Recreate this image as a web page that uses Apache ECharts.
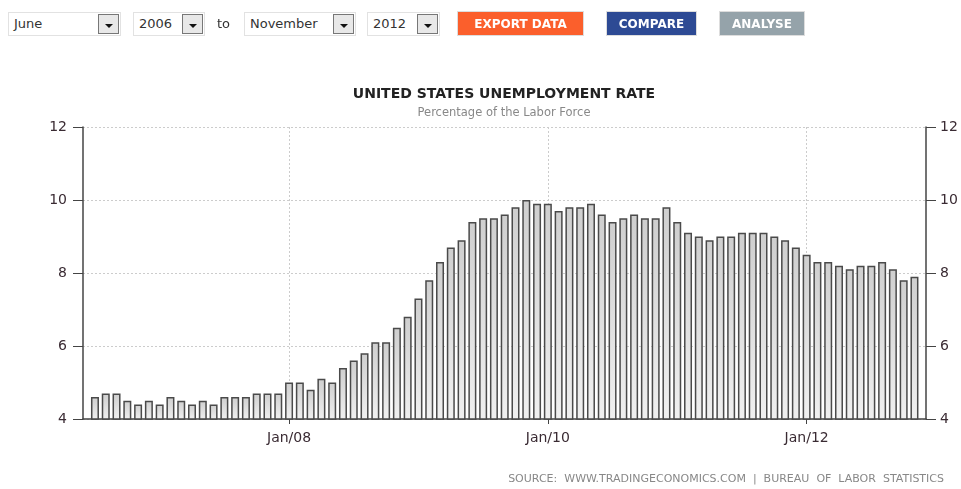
<!DOCTYPE html>
<html>
<head>
<meta charset="utf-8">
<title>United States Unemployment Rate</title>
<script src="https://cdn.jsdelivr.net/npm/echarts@6/dist/echarts.min.js"></script>
<style>
  body { margin: 0; background: #fff; font-family: "DejaVu Sans", Verdana, sans-serif; }
  .wrap { position: relative; width: 961px; height: 489px; }
  #chart { position: absolute; left: 0; top: 0; width: 961px; height: 489px; }
  .controls { position: absolute; left: 0; top: 0; width: 961px; height: 48px; z-index: 2; }
  .sel { position: absolute; top: 12px; height: 24px; box-sizing: border-box; border: 1px solid #e2e2e2;
         background: #fff; font-size: 13px; color: #333; line-height: 22px; padding-left: 5px; }
  .sel .arr { position: absolute; right: 1px; top: 1px; width: 21px; height: 20px; box-sizing: border-box;
              border: 1px solid #777; background: #e8e8e8; }
  .sel .arr:after { content: ""; position: absolute; left: 6px; top: 9px; border-left: 4px solid transparent;
                    border-right: 4px solid transparent; border-top: 4px solid #111; }
  .to { position: absolute; left: 217px; top: 12px; line-height: 24px; font-size: 13px; color: #333; }
  .btn { position: absolute; top: 11px; height: 25px; line-height: 25px; text-align: center; color: #fff;
         font-weight: bold; font-size: 12px; font-family: "DejaVu Sans", Verdana, sans-serif; border: 1px solid #ddd; box-sizing: border-box; }
</style>
</head>
<body>
<div class="wrap">
  <div id="chart"></div>
  <div class="controls">
    <div class="sel" style="left:8px;width:113px;">June<span class="arr"></span></div>
    <div class="sel" style="left:133px;width:72px;">2006<span class="arr"></span></div>
    <div class="to">to</div>
    <div class="sel" style="left:244px;width:112px;">November<span class="arr"></span></div>
    <div class="sel" style="left:367px;width:73px;">2012<span class="arr"></span></div>
    <div class="btn" style="left:457px;width:127px;background:#fb5f2c;">EXPORT DATA</div>
    <div class="btn" style="left:606px;width:91px;background:#2d4a94;">COMPARE</div>
    <div class="btn" style="left:719px;width:86px;background:#95a3aa;">ANALYSE</div>
  </div>
</div>
<script>
// monthly unemployment rate, Jun 2006 .. Oct 2012
const months = [
  '2006-06','2006-07','2006-08','2006-09','2006-10','2006-11','2006-12',
  '2007-01','2007-02','2007-03','2007-04','2007-05','2007-06','2007-07','2007-08','2007-09','2007-10','2007-11','2007-12',
  '2008-01','2008-02','2008-03','2008-04','2008-05','2008-06','2008-07','2008-08','2008-09','2008-10','2008-11','2008-12',
  '2009-01','2009-02','2009-03','2009-04','2009-05','2009-06','2009-07','2009-08','2009-09','2009-10','2009-11','2009-12',
  '2010-01','2010-02','2010-03','2010-04','2010-05','2010-06','2010-07','2010-08','2010-09','2010-10','2010-11','2010-12',
  '2011-01','2011-02','2011-03','2011-04','2011-05','2011-06','2011-07','2011-08','2011-09','2011-10','2011-11','2011-12',
  '2012-01','2012-02','2012-03','2012-04','2012-05','2012-06','2012-07','2012-08','2012-09','2012-10'
];
const rates = [
  4.6, 4.7, 4.7, 4.5, 4.4, 4.5, 4.4,
  4.6, 4.5, 4.4, 4.5, 4.4, 4.6, 4.6, 4.6, 4.7, 4.7, 4.7, 5.0,
  5.0, 4.8, 5.1, 5.0, 5.4, 5.6, 5.8, 6.1, 6.1, 6.5, 6.8, 7.3,
  7.8, 8.3, 8.7, 8.9, 9.4, 9.5, 9.5, 9.6, 9.8, 10.0, 9.9, 9.9,
  9.7, 9.8, 9.8, 9.9, 9.6, 9.4, 9.5, 9.6, 9.5, 9.5, 9.8, 9.4,
  9.1, 9.0, 8.9, 9.0, 9.0, 9.1, 9.1, 9.1, 9.0, 8.9, 8.7, 8.5,
  8.3, 8.3, 8.2, 8.1, 8.2, 8.2, 8.3, 8.1, 7.8, 7.9
];
// month-end points that sit on the year marks
const tickMonths = ['2007-12', '2009-12', '2011-12'];
const tickLabels = ['Jan/08', 'Jan/10', 'Jan/12'];

const tickIdx = tickMonths.map(m => months.indexOf(m));
const barData = rates.map((v, i) => [i, v]);

const chart = echarts.init(document.getElementById('chart'));

const axisLabelStyle = { color: '#3a2b33', fontSize: 14, fontFamily: 'DejaVu Sans' };
const axisLineStyle = { show: true, onZero: false, lineStyle: { color: '#444', width: 1.5 } };

chart.setOption({
  animation: false,
  title: [
    {
      text: 'UNITED STATES UNEMPLOYMENT RATE',
      subtext: 'Percentage of the Labor Force',
      left: 499, top: 82, textAlign: 'center', itemGap: 6,
      textStyle: { fontSize: 14, fontWeight: 'bold', color: '#222', fontFamily: 'DejaVu Sans' },
      subtextStyle: { fontSize: 11.5, color: '#888', fontFamily: 'DejaVu Sans' }
    },
    {
      text: 'SOURCE:  WWW.TRADINGECONOMICS.COM  |  BUREAU  OF  LABOR  STATISTICS',
      right: 12, top: 469,
      textStyle: { fontSize: 11, fontWeight: 'normal', color: '#888', fontFamily: 'DejaVu Sans' }
    }
  ],
  grid: { left: 83, right: 35, top: 127, bottom: 70 },
  xAxis: {
    type: 'value',
    min: -1.11,
    max: 77.07,
    axisLine: axisLineStyle,
    axisTick: { show: true, customValues: tickIdx, length: 5, lineStyle: { color: '#444' } },
    axisLabel: {
      customValues: tickIdx,
      margin: 12,
      ...axisLabelStyle,
      formatter: v => tickLabels[tickIdx.indexOf(Math.round(v))] || ''
    },
    splitLine: { show: true, lineStyle: { color: '#ccc', type: [2, 2] } }
  },
  yAxis: [
    {
      type: 'value', min: 4, max: 12, interval: 2, position: 'left',
      axisLine: axisLineStyle,
      axisTick: { show: true, length: 10, lineStyle: { color: '#444' } },
      axisLabel: { margin: 16, ...axisLabelStyle },
      splitLine: { show: true, lineStyle: { color: '#ccc', type: [2, 2] } }
    },
    {
      type: 'value', min: 4, max: 12, interval: 2, position: 'right',
      axisLine: axisLineStyle,
      axisTick: { show: true, length: 10, lineStyle: { color: '#444' } },
      axisLabel: { margin: 14, ...axisLabelStyle },
      splitLine: { show: false }
    }
  ],
  series: [
    {
      type: 'bar',
      data: barData,
      barWidth: 8,
      itemStyle: {
        color: new echarts.graphic.LinearGradient(0, 0, 0, 1, [
          { offset: 0, color: '#cfcfcf' },
          { offset: 1, color: '#f0f0f0' }
        ]),
        borderColor: '#4a4a4a',
        borderWidth: 1.5
      }
    }
  ]
});
</script>
</body>
</html>
